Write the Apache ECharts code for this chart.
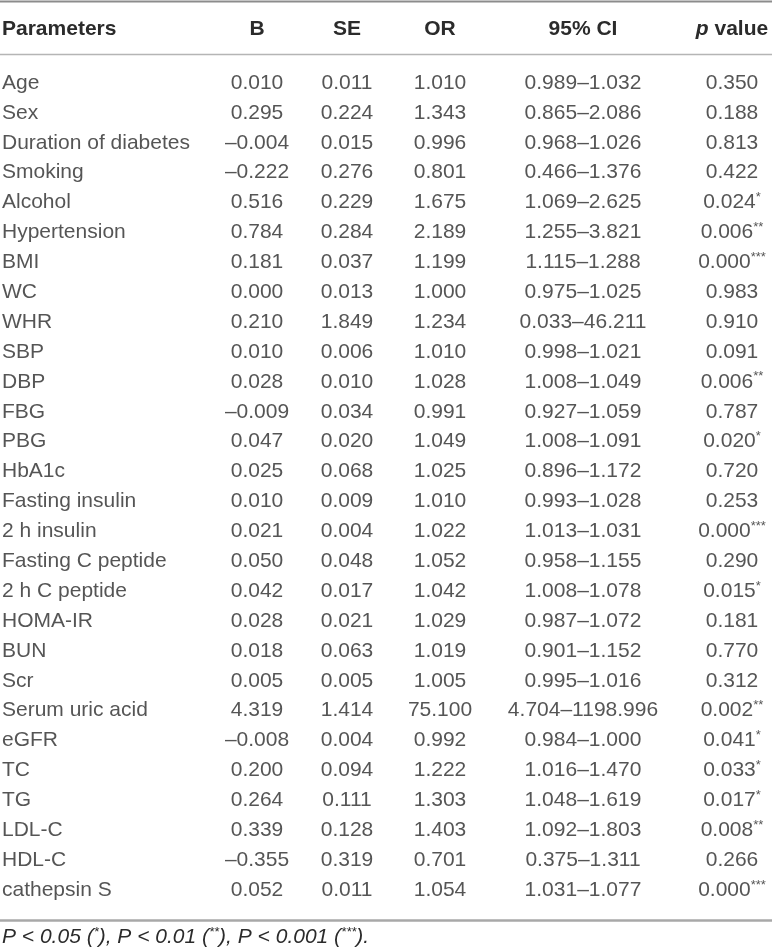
<!DOCTYPE html>
<html>
<head>
<meta charset="utf-8">
<script src="https://cdn.jsdelivr.net/npm/echarts@6/dist/echarts.min.js"></script>
<style>
    html, body { margin: 0; padding: 0; background: #fff; }
    #main { width: 772px; height: 952px; }
</style>
</head>
<body>
<div id="main"></div>
<script>
// ---------------- table data ----------------
var params = ['Age', 'Sex', 'Duration of diabetes', 'Smoking', 'Alcohol', 'Hypertension', 'BMI', 'WC', 'WHR', 'SBP',
    'DBP', 'FBG', 'PBG', 'HbA1c', 'Fasting insulin', '2 h insulin', 'Fasting C peptide', '2 h C peptide', 'HOMA-IR',
    'BUN', 'Scr', 'Serum uric acid', 'eGFR', 'TC', 'TG', 'LDL-C', 'HDL-C', 'cathepsin S'];
var bVal = [0.010, 0.295, -0.004, -0.222, 0.516, 0.784, 0.181, 0.000, 0.210, 0.010,
    0.028, -0.009, 0.047, 0.025, 0.010, 0.021, 0.050, 0.042, 0.028,
    0.018, 0.005, 4.319, -0.008, 0.200, 0.264, 0.339, -0.355, 0.052];
var seVal = [0.011, 0.224, 0.015, 0.276, 0.229, 0.284, 0.037, 0.013, 1.849, 0.006,
    0.010, 0.034, 0.020, 0.068, 0.009, 0.004, 0.048, 0.017, 0.021,
    0.063, 0.005, 1.414, 0.004, 0.094, 0.111, 0.128, 0.319, 0.011];
var orVal = [1.010, 1.343, 0.996, 0.801, 1.675, 2.189, 1.199, 1.000, 1.234, 1.010,
    1.028, 0.991, 1.049, 1.025, 1.010, 1.022, 1.052, 1.042, 1.029,
    1.019, 1.005, 75.100, 0.992, 1.222, 1.303, 1.403, 0.701, 1.054];
var ciLow = [0.989, 0.865, 0.968, 0.466, 1.069, 1.255, 1.115, 0.975, 0.033, 0.998,
    1.008, 0.927, 1.008, 0.896, 0.993, 1.013, 0.958, 1.008, 0.987,
    0.901, 0.995, 4.704, 0.984, 1.016, 1.048, 1.092, 0.375, 1.031];
var ciHigh = [1.032, 2.086, 1.026, 1.376, 2.625, 3.821, 1.288, 1.025, 46.211, 1.021,
    1.049, 1.059, 1.091, 1.172, 1.028, 1.031, 1.155, 1.078, 1.072,
    1.152, 1.016, 1198.996, 1.000, 1.470, 1.619, 1.803, 1.311, 1.077];
var pVal = [0.350, 0.188, 0.813, 0.422, 0.024, 0.006, 0.000, 0.983, 0.910, 0.091,
    0.006, 0.787, 0.020, 0.720, 0.253, 0.000, 0.290, 0.015, 0.181,
    0.770, 0.312, 0.002, 0.041, 0.033, 0.017, 0.008, 0.266, 0.000];
var columns = ['Parameters', 'B', 'SE', 'OR', '95% CI', 'p value'];

// ---------------- layout ----------------
var FONT = '"Liberation Sans", Arial, sans-serif';
var TXT = '#2b2b2b';
var colX = [2, 257, 347, 440, 583, 732]; // column anchors, x axis spans 0..772

function fmt(v) {
    var s = Math.abs(v).toFixed(3);
    return v < 0 ? '\u2013' + s : s;
}
function stars(p) {
    if (p < 0.001) return '***';
    if (p < 0.01) return '**';
    if (p < 0.05) return '*';
    return '';
}

var cellText = [
    function (i) { return params[i]; },
    function (i) { return fmt(bVal[i]); },
    function (i) { return fmt(seVal[i]); },
    function (i) { return fmt(orVal[i]); },
    function (i) { return fmt(ciLow[i]) + '\u2013' + fmt(ciHigh[i]); },
    function (i) {
        var st = stars(pVal[i]);
        return '{v|' + fmt(pVal[i]) + '}' + (st ? '{s|' + st + '}' : '');
    }
];

var series = columns.map(function (col, c) {
    return {
        name: col,
        type: 'scatter',
        silent: true,
        symbolSize: 0,
        data: params.map(function (p) { return [colX[c], p]; }),
        label: {
            show: true,
            position: c === 0 ? 'right' : 'inside',
            distance: 0,
            fontFamily: FONT,
            fontSize: 21,
            color: TXT,
            formatter: function (d) { return cellText[c](d.dataIndex); },
            rich: {
                v: { fontFamily: FONT, fontSize: 21, color: TXT, lineHeight: 23 },
                s: { fontFamily: FONT, fontSize: 13, color: TXT, lineHeight: 13, verticalAlign: 'top' }
            }
        }
    };
});

// header cells + rules + footnote
var graphics = [
    { type: 'line', shape: { x1: 0, y1: 1.5, x2: 772, y2: 1.5 }, style: { stroke: '#8c8c8c', lineWidth: 2 } },
    { type: 'line', shape: { x1: 0, y1: 54.5, x2: 772, y2: 54.5 }, style: { stroke: '#b5b5b5', lineWidth: 1.5 } },
    { type: 'line', shape: { x1: 0, y1: 920.5, x2: 772, y2: 920.5 }, style: { stroke: '#a8a8a8', lineWidth: 2.5 } }
];
columns.forEach(function (col, c) {
    graphics.push({
        type: 'text',
        x: colX[c],
        y: 29,
        style: {
            text: c === 5 ? '{i|p}{b| value}' : col,
            font: 'bold 21px ' + FONT,
            fill: TXT,
            align: c === 0 ? 'left' : 'center',
            verticalAlign: 'middle',
            rich: {
                i: { font: 'italic bold 21px ' + FONT, fill: TXT },
                b: { font: 'bold 21px ' + FONT, fill: TXT }
            }
        }
    });
});
graphics.push({
    type: 'text',
    x: 2,
    y: 937,
    style: {
        text: '{i|P < 0.05 (}{s|*}{i|), P < 0.01 (}{s|**}{i|), P < 0.001 (}{s|***}{i|).}',
        fill: TXT,
        align: 'left',
        verticalAlign: 'middle',
        rich: {
            i: { font: 'italic 21px ' + FONT, fill: TXT, lineHeight: 23 },
            s: { font: 'italic 13px ' + FONT, fill: TXT, lineHeight: 13, verticalAlign: 'top' }
        }
    }
});

var tableChart = echarts.init(document.getElementById('main'));
var tableOption = {
    animation: false,
    grid: { left: 0, right: 0, top: 68, bottom: 47 },
    xAxis: { type: 'value', min: 0, max: 772, show: false },
    yAxis: { type: 'category', inverse: true, data: params, show: false },
    series: series,
    graphic: graphics
};
tableChart.setOption(tableOption);
</script>
</body>
</html>
